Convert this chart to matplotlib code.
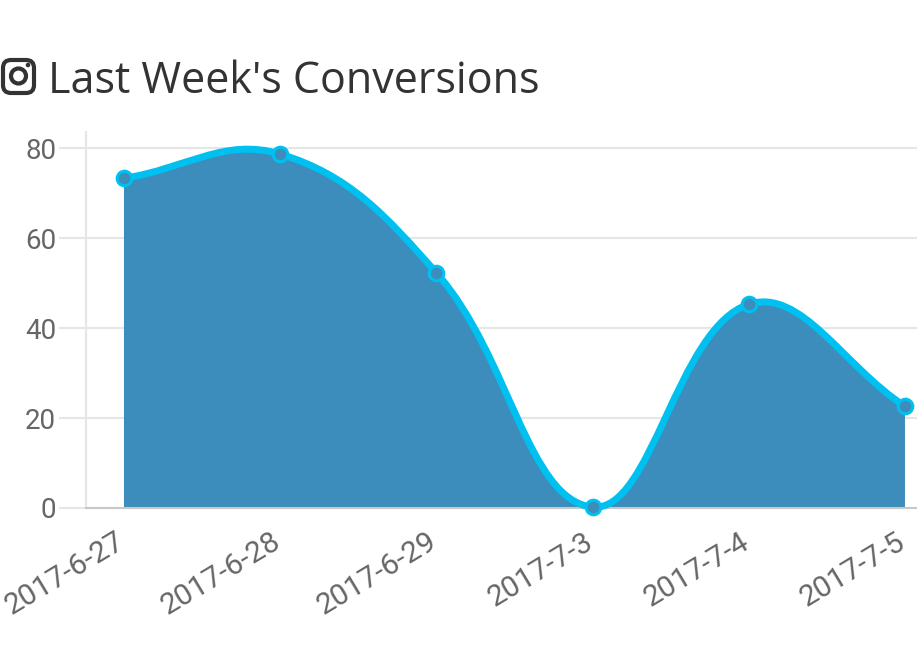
import numpy as np
import matplotlib
matplotlib.use('Agg')
import matplotlib.pyplot as plt
from matplotlib.path import Path
from matplotlib.patches import PathPatch, FancyBboxPatch, Circle
from matplotlib.transforms import IdentityTransform, ScaledTranslation

dates = ['2017-6-27', '2017-6-28', '2017-6-29', '2017-7-3', '2017-7-4', '2017-7-5']
conversions = [73.3, 78.7, 52.3, 0.2, 45.3, 22.6]
y_ticks = [0, 20, 40, 60, 80]

FILL = '#3c8dbc'
LINE = '#00c0ef'
W, H = 917, 657


def spline(ax, xs, ys, tension=0.4):
    # Chart.js style cardinal spline, control points computed in pixel space
    pts = ax.transData.transform(np.column_stack([xs, ys]))
    n = len(pts)
    cprev, cnext = [], []
    for i in range(n):
        prev, cur, nxt = pts[max(i - 1, 0)], pts[i], pts[min(i + 1, n - 1)]
        d01 = np.hypot(*(cur - prev))
        d12 = np.hypot(*(nxt - cur))
        tot = d01 + d12
        s01 = d01 / tot if tot else 0
        s12 = d12 / tot if tot else 0
        cprev.append(cur - tension * s01 * (nxt - prev))
        cnext.append(cur + tension * s12 * (nxt - prev))
    verts = [pts[0]]
    codes = [Path.MOVETO]
    for i in range(1, n):
        verts += [cnext[i - 1], cprev[i], pts[i]]
        codes += [Path.CURVE4] * 3
    return ax.transData.inverted().transform(np.array(verts)), codes


fig = plt.figure(figsize=(W / 100, H / 100), dpi=100)
ax = fig.add_axes([86 / W, 1 - 508 / H, 1 - 86 / W, (508 - 132) / H])

x = np.arange(len(dates))
ax.set_xlim(-0.243, 5.077)
ax.set_ylim(0, 83.6)

verts, codes = spline(ax, x, conversions)

fill_verts = np.vstack([verts, [[x[-1], 0], [x[0], 0], [x[0], 0]]])
fill_codes = codes + [Path.LINETO, Path.LINETO, Path.CLOSEPOLY]
ax.add_patch(PathPatch(Path(fill_verts, fill_codes), facecolor=FILL,
                       edgecolor='none', zorder=2))
ax.add_patch(PathPatch(Path(verts, codes), facecolor='none', edgecolor=LINE,
                       lw=5, zorder=3, clip_on=False, capstyle='round'))
ax.plot(x, conversions, 'o', ms=10.5, mfc=FILL, mec=LINE, mew=2.2,
        zorder=4, clip_on=False)

ax.set_yticks(y_ticks)
ax.set_xticks(x)
ax.set_xticklabels(dates, rotation=31, ha='right', va='top',
                   rotation_mode='anchor')
ax.grid(axis='y', color='#e6e6e6', lw=1.5, zorder=0)
ax.tick_params(axis='y', length=19.5, width=1.5, color='#e6e6e6', pad=2,
               labelsize=20, labelcolor='#666666')
ax.tick_params(axis='x', length=0, pad=14, labelsize=21.5, labelcolor='#666666')
ax.yaxis.get_major_ticks()[0].tick1line.set_color('#c8c8c8')
shift = ScaledTranslation(-9 / 100, 0, fig.dpi_scale_trans)
for lab in ax.get_xticklabels():
    lab.set_fontfamily('Roboto')
    lab.set_transform(lab.get_transform() + shift)
for lab in ax.get_yticklabels():
    lab.set_fontfamily('Roboto')

for s in ['top', 'right']:
    ax.spines[s].set_visible(False)
ax.spines['left'].set_color('#e6e6e6')
ax.spines['left'].set_linewidth(1.5)
ax.spines['bottom'].set_color('#c8c8c8')
ax.spines['bottom'].set_linewidth(1.5)

# title with instagram glyph
fig.text(48 / W, 1 - 93 / H, "Last Week's Conversions", fontsize=31,
         family='Open Sans', color='#333333', va='baseline', ha='left')
ident = IdentityTransform()
fig.patches.append(FancyBboxPatch((3, H - 93), 31, 33,
                                  boxstyle='round,pad=0,rounding_size=8',
                                  fill=False, ec='#333333', lw=3,
                                  transform=ident, figure=fig))
fig.patches.append(Circle((18.5, H - 76), 7.5, fill=False, ec='#333333',
                          lw=3, transform=ident, figure=fig))
fig.patches.append(Circle((28, H - 65), 2.3, fc='#333333', ec='none',
                          transform=ident, figure=fig))

fig.savefig('out.png', dpi=100)
